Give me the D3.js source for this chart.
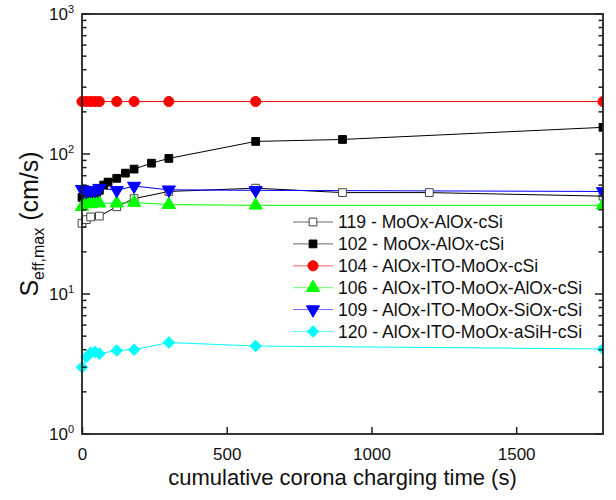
<!DOCTYPE html>
<html>
<head>
<meta charset="utf-8">
<script src="https://cdn.jsdelivr.net/npm/d3@7"></script>
<style>
  body { margin: 0; background: #fff; }
  svg { font-family: Arial, "Liberation Sans", sans-serif; }
</style>
</head>
<body>
<div id="chart"></div>
<script>
// sample series (time in s, S_eff,max in cm/s)
const t119 = [0, 15, 30, 60, 120, 180, 300, 600, 900, 1200, 1800];
const s119 = [32, 34, 35.5, 36, 42, 48, 54, 57, 53, 53, 50];
const t102 = [0, 10, 20, 30, 40, 50, 60, 75, 90, 120, 150, 180, 240, 300, 600, 900, 1800];
const s102 = [49, 47, 50, 47, 50, 52, 55, 60, 63, 67, 73, 78, 86, 93, 123, 127, 155];
const t104 = [0, 15, 30, 45, 60, 120, 180, 300, 600, 1800];
const s104 = [237, 237, 237, 237, 237, 237, 237, 237, 237, 237];
const t106 = [0, 15, 30, 45, 60, 120, 180, 300, 600, 1800];
const s106 = [42, 45, 44, 45, 44.5, 44.5, 45, 43.5, 43, 43];
const t109 = [0, 15, 30, 45, 60, 120, 180, 300, 600, 1800];
const s109 = [56, 54, 55, 55, 57, 55, 59, 55.5, 55, 54];
const t120 = [0, 15, 30, 45, 60, 120, 180, 300, 600, 1800];
const s120 = [3.0, 3.55, 3.8, 3.85, 3.75, 3.95, 4.0, 4.5, 4.25, 4.05];

const seriesLabels = [
  '119 - MoOx-AlOx-cSi',
  '102 - MoOx-AlOx-cSi',
  '104 - AlOx-ITO-MoOx-cSi',
  '106 - AlOx-ITO-MoOx-AlOx-cSi',
  '109 - AlOx-ITO-MoOx-SiOx-cSi',
  '120 - AlOx-ITO-MoOx-aSiH-cSi'
];
const xTicks = [0, 500, 1000, 1500];
const yTicks = [1, 10, 100, 1000];

const width = 616, height = 500;
const margin = {top: 14, right: 13, bottom: 66, left: 82};
const w = width - margin.left - margin.right;
const h = height - margin.top - margin.bottom;

const series = [
  {label: seriesLabels[0], t: t119, s: s119, color: '#000', fill: '#fff', stroke: '#444', shape: 'square'},
  {label: seriesLabels[1], t: t102, s: s102, color: '#000', fill: '#000', stroke: '#000', shape: 'square'},
  {label: seriesLabels[2], t: t104, s: s104, color: '#ff0000', fill: '#ff0000', stroke: '#ff0000', shape: 'circle'},
  {label: seriesLabels[3], t: t106, s: s106, color: '#00ff00', fill: '#00ff00', stroke: '#00ff00', shape: 'up'},
  {label: seriesLabels[4], t: t109, s: s109, color: '#0000ff', fill: '#0000ff', stroke: '#0000ff', shape: 'down'},
  {label: seriesLabels[5], t: t120, s: s120, color: '#00ffff', fill: '#00ffff', stroke: '#00ffff', shape: 'diamond'}
];

const x = d3.scaleLinear().domain([0, 1800]).range([0, w]);
const y = d3.scaleLog().domain([1, 1000]).range([h, 0]);

const symbolFor = (shape) => {
  if (shape === 'circle') return {path: d3.symbol(d3.symbolCircle, 80)(), rot: 0};
  if (shape === 'square') return {path: d3.symbol(d3.symbolSquare, 60)(), rot: 0};
  if (shape === 'up') return {path: d3.symbol(d3.symbolTriangle, 75)(), rot: 0};
  if (shape === 'down') return {path: d3.symbol(d3.symbolTriangle, 75)(), rot: 180};
  return {path: d3.symbol(d3.symbolSquare, 62)(), rot: 45};
};

const svg = d3.select('#chart').append('svg')
  .attr('width', width).attr('height', height);

const defs = svg.append('defs');
defs.append('clipPath').attr('id', 'clip')
  .append('rect').attr('x', -8).attr('y', 0).attr('width', w + 8).attr('height', h);

const g = svg.append('g')
  .attr('transform', 'translate(' + margin.left + ',' + margin.top + ')');

// data lines + markers
const plot = g.append('g').attr('clip-path', 'url(#clip)');
const line = d3.line().x(d => x(d[0])).y(d => y(d[1]));

series.forEach((sr) => {
  const pts = sr.t.map((t, i) => [t, sr.s[i]]);
  plot.append('path')
    .attr('d', line(pts))
    .attr('fill', 'none')
    .attr('stroke', sr.color)
    .attr('stroke-width', 1);
});
series.forEach((sr) => {
  const pts = sr.t.map((t, i) => [t, sr.s[i]]);
  const sym = symbolFor(sr.shape);
  plot.append('g').selectAll('path')
    .data(pts).enter()
    .append('path')
    .attr('d', sym.path)
    .attr('transform', d => 'translate(' + x(d[0]) + ',' + y(d[1]) + ') rotate(' + sym.rot + ')')
    .attr('fill', sr.fill)
    .attr('stroke', sr.stroke)
    .attr('stroke-width', 1);
});

// axes: ticks point inward
const axisColor = '#222';
const axB = g.append('g').attr('transform', 'translate(0,' + h + ')')
  .call(d3.axisBottom(x).tickValues(xTicks).tickSize(-7).tickPadding(14).tickFormat(d3.format('d')));
axB.select('.domain').remove();
axB.selectAll('.tick line').attr('stroke', axisColor).attr('stroke-width', 1.5);
axB.selectAll('.tick text').attr('font-size', 17).attr('fill', '#111')
  .attr('font-family', 'Arial, "Liberation Sans", sans-serif');

const minorY = [];
for (let e = 0; e < 3; e++) {
  for (let k = 2; k <= 9; k++) minorY.push(k * Math.pow(10, e));
}

const drawYAxis = (xpos, dir) => {
  const ax = g.append('g').attr('transform', 'translate(' + xpos + ',0)');
  ax.selectAll('line.major').data(yTicks).enter().append('line')
    .attr('x1', 0).attr('x2', 8 * dir)
    .attr('y1', d => y(d)).attr('y2', d => y(d))
    .attr('stroke', axisColor).attr('stroke-width', 1.5);
  ax.selectAll('line.minor').data(minorY).enter().append('line')
    .attr('x1', 0).attr('x2', 4.5 * dir)
    .attr('y1', d => y(d)).attr('y2', d => y(d))
    .attr('stroke', axisColor).attr('stroke-width', 1.5);
  return ax;
};
drawYAxis(0, 1);
drawYAxis(w, -1);

// y tick labels 10^n
const yl = g.append('g');
yTicks.forEach((v) => {
  const tx = yl.append('text')
    .attr('x', -8).attr('y', y(v) + 6)
    .attr('text-anchor', 'end')
    .attr('font-size', 17).attr('fill', '#111');
  tx.append('tspan').text('10');
  tx.append('tspan').attr('font-size', 11).attr('dy', -7).text(Math.round(Math.log10(v)));
});

// frame
g.append('rect').attr('width', w).attr('height', h)
  .attr('fill', 'none').attr('stroke', axisColor).attr('stroke-width', 1.8);

// axis titles
svg.append('text')
  .attr('x', margin.left + w / 2).attr('y', 485)
  .attr('text-anchor', 'middle').attr('font-size', 22).attr('fill', '#111')
  .text('cumulative corona charging time (s)');

const yt = svg.append('text')
  .attr('transform', 'translate(38,' + (margin.top + h / 2) + ') rotate(-90)')
  .attr('text-anchor', 'middle').attr('font-size', 25).attr('fill', '#111');
yt.append('tspan').text('S');
yt.append('tspan').attr('font-size', 16).attr('dy', 6).text('eff,max');
yt.append('tspan').attr('dy', -6).text(' (cm/s)');

// legend
const legend = svg.append('g').attr('transform', 'translate(293,222)');
series.forEach((sr, i) => {
  const row = legend.append('g').attr('transform', 'translate(0,' + (i * 21.9) + ')');
  row.append('line').attr('x1', 0).attr('x2', 40).attr('y1', 0).attr('y2', 0)
    .attr('stroke', sr.color).attr('stroke-width', 1).attr('stroke-opacity', 0.6);
  const sym = symbolFor(sr.shape);
  row.append('path').attr('d', sym.path)
    .attr('transform', 'translate(20,0) rotate(' + sym.rot + ')')
    .attr('fill', sr.fill).attr('stroke', sr.stroke).attr('stroke-width', 1);
  row.append('text').attr('x', 45).attr('y', 6)
    .attr('font-size', 17.6).attr('fill', '#111')
    .text(sr.label);
});
</script>
</body>
</html>
